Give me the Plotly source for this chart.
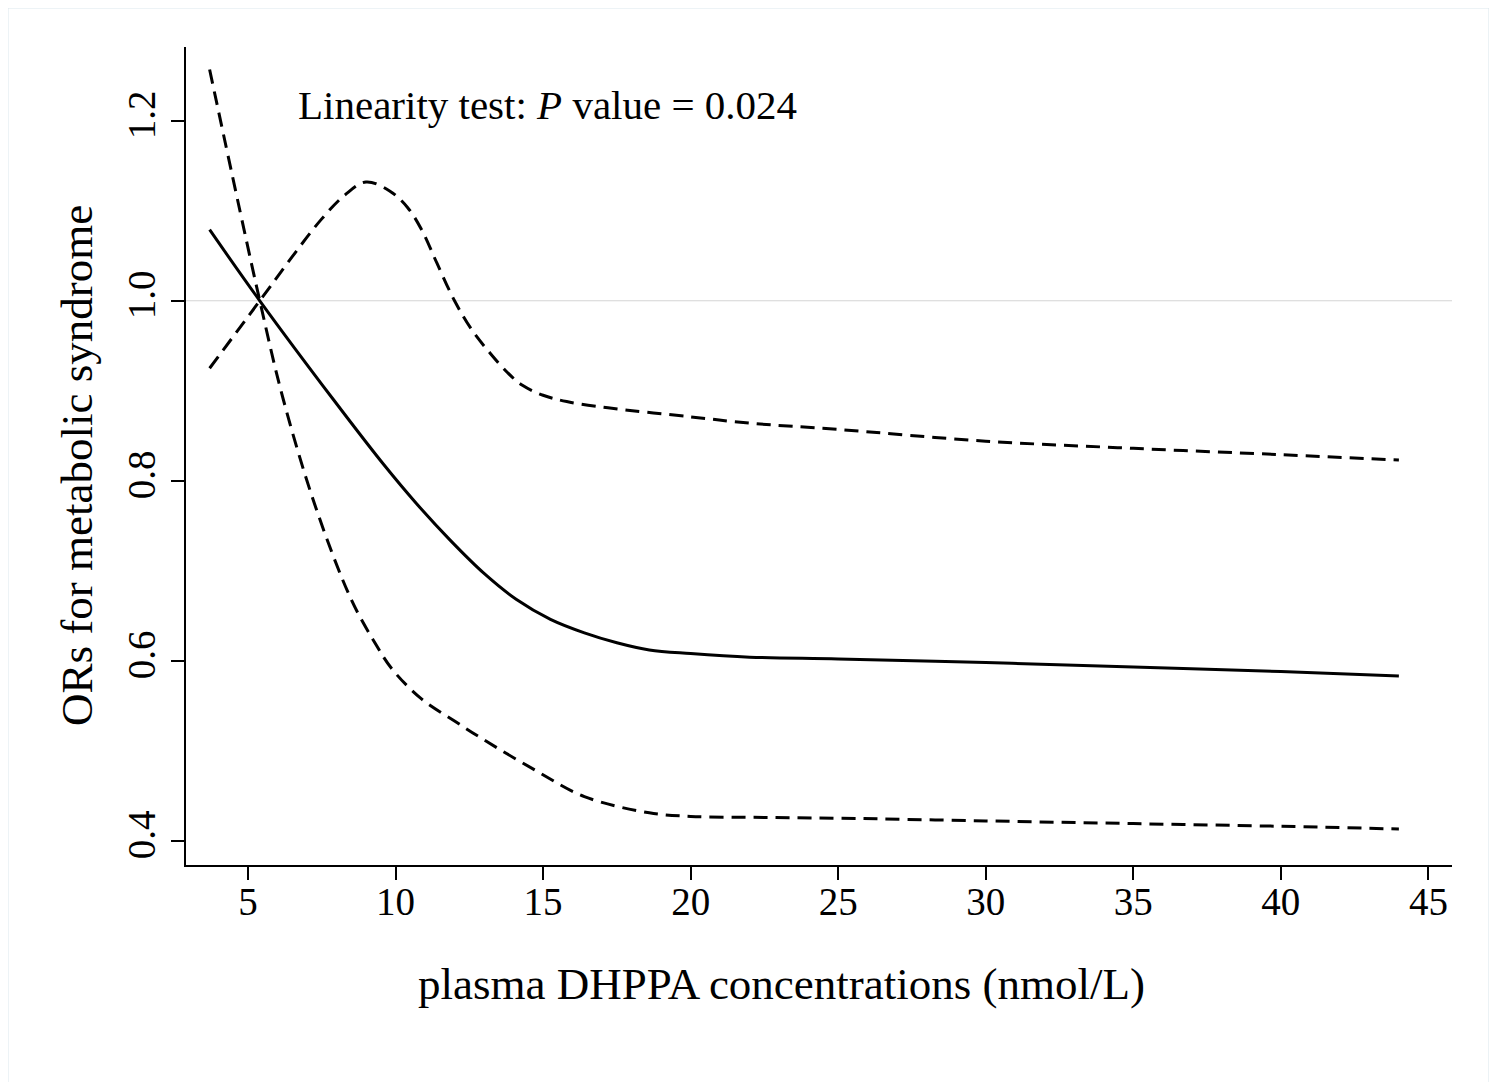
import plotly.graph_objects as go

# values
conc_est = [3.7, 5.4, 7.9, 9.6, 10.7, 11.85, 13.0, 14.1, 15.25, 16.4, 17.5, 18.6,
            20.0, 22.0, 25.0, 30.0, 35.0, 40.0, 44.0]
or_est = [1.079, 1.000, 0.890, 0.818, 0.775, 0.734, 0.697, 0.668, 0.646, 0.631,
          0.620, 0.612, 0.608, 0.604, 0.602, 0.598, 0.593, 0.588, 0.583]

conc_up = [3.7, 5.4, 6.5, 7.5, 8.3, 9.0, 9.8, 10.4, 10.9, 11.4, 12.0, 12.6, 13.2,
           13.8, 14.3, 15.0, 15.8, 17.2, 20.0, 22.0, 25.0, 30.0, 35.0, 40.0, 44.0]
ci_upper = [0.925, 1.000, 1.049, 1.091, 1.118, 1.132, 1.122, 1.104, 1.078, 1.042,
            1.000, 0.967, 0.942, 0.920, 0.906, 0.895, 0.888, 0.881, 0.871, 0.864,
            0.857, 0.844, 0.836, 0.829, 0.823]

conc_low = [3.7, 5.4, 6.2, 7.3, 8.5, 9.3, 9.9, 10.9, 12.0, 13.0, 14.7, 16.4, 18.6,
            20.0, 22.0, 25.0, 30.0, 35.0, 40.0, 44.0]
ci_lower = [1.257, 1.000, 0.890, 0.770, 0.668, 0.620, 0.590, 0.557, 0.533, 0.512,
            0.479, 0.449, 0.431, 0.427, 0.426, 0.425, 0.422, 0.419, 0.416, 0.413]

x_ticks = [5, 10, 15, 20, 25, 30, 35, 40, 45]
y_ticks = [0.4, 0.6, 0.8, 1.0, 1.2]
y_tick_text = ["0.4", "0.6", "0.8", "1.0", "1.2"]

FONT = "Liberation Serif, Times New Roman, serif"
DASH = "14px,8px"

fig = go.Figure()

# reference line at OR = 1
fig.add_hline(y=1.0, line=dict(color="#d4d4d4", width=1), layer="below")

fig.add_trace(go.Scatter(x=conc_up, y=ci_upper, mode="lines", line_shape="spline",
                         line=dict(color="black", width=3, dash=DASH),
                         showlegend=False))
fig.add_trace(go.Scatter(x=conc_low, y=ci_lower, mode="lines", line_shape="spline",
                         line=dict(color="black", width=3, dash=DASH),
                         showlegend=False))
fig.add_trace(go.Scatter(x=conc_est, y=or_est, mode="lines", line_shape="spline",
                         line=dict(color="black", width=3),
                         showlegend=False))

fig.add_annotation(text="Linearity test: <i>P</i> value = 0.024",
                   xref="paper", yref="paper", x=0.087, y=0.929,
                   xanchor="left", yanchor="middle", showarrow=False,
                   font=dict(family=FONT, size=41, color="black"))

# axis titles (placed like the original, slightly off the plot centre)
fig.add_annotation(text="plasma DHPPA concentrations (nmol/L)",
                   xref="paper", yref="paper", x=0.47, y=-0.145,
                   xanchor="center", yanchor="middle", showarrow=False,
                   font=dict(family=FONT, size=45, color="black"))
fig.add_annotation(text="ORs for metabolic syndrome", textangle=-90,
                   xref="paper", yref="paper", x=-0.086, y=0.488,
                   xanchor="center", yanchor="middle", showarrow=False,
                   font=dict(family=FONT, size=45, color="black"))

# light frame around the whole graphic
fig.add_shape(type="rect", xref="paper", yref="paper",
              x0=-0.1414, x1=1.030, y0=-0.30, y1=1.0489,
              line=dict(color="#dbe7ed", width=3), layer="below")

fig.update_layout(
    width=1497, height=1082,
    margin=dict(l=178, r=53, t=39, b=225),
    paper_bgcolor="white", plot_bgcolor="white",
    font=dict(family=FONT, color="black"),
    xaxis=dict(range=[2.9, 45.8], tickvals=x_ticks, ticks="outside", ticklen=13,
               tickwidth=2, tickcolor="black", showline=True, linecolor="black",
               linewidth=2, showgrid=False, zeroline=False,
               tickfont=dict(family=FONT, size=39), ticklabelstandoff=-12),
    yaxis=dict(range=[0.373, 1.282], tickvals=y_ticks, ticktext=y_tick_text,
               ticks="outside", ticklen=13, tickwidth=2, tickcolor="black",
               showline=True, linecolor="black", linewidth=2, showgrid=False,
               zeroline=False, tickangle=-90,
               tickfont=dict(family=FONT, size=39)),
)

fig.write_html("out.html")
